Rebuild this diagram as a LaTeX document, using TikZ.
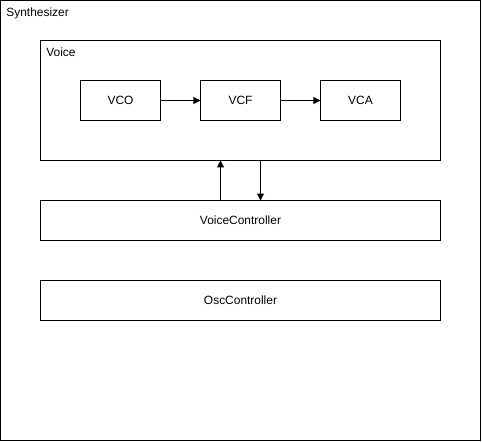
\documentclass[tikz,border=0pt]{standalone}
\usepackage{fontspec}
\setmainfont{Liberation Sans}
\usetikzlibrary{arrows.meta,positioning}
\tikzset{
  block/.style={
    draw=black,
    line width=0.6pt,
    align=center,
    minimum width=1.6cm,
    minimum height=0.8cm,
    inner sep=0pt,
    outer sep=0pt,
    font=\fontsize{6.8}{8}\selectfont
  },
  frame/.style={
    draw=black,
    line width=0.6pt,
    inner sep=0pt,
    outer sep=0pt
  },
  caption/.style={
    anchor=north west,
    inner sep=0pt,
    font=\fontsize{6.8}{8}\selectfont
  },
  line/.style={-{Triangle[length=1.4mm,width=1.4mm]}, line width=0.6pt}
}

\begin{document}
\begin{tikzpicture}[x=0.02cm, y=-0.02cm]
  \useasboundingbox (0,0) rectangle (482,442);
  % outer frame and containers
  \node[frame, minimum width=9.6cm, minimum height=8.8cm] (synth) at (240.5,220.5) {};
  \node[caption] (synthlbl) at (6,7) {Synthesizer};
  \node[frame, minimum width=8cm, minimum height=2.4cm] (voice) at (240.5,100.5) {};
  \node[caption] (voicelbl) at (46,47) {Voice};
  % signal chain
  \node[block] (vco) at (120.5,100.5) {VCO};
  \node[block, right=0.8cm of vco] (vcf) {VCF};
  \node[block, right=0.8cm of vcf] (vca) {VCA};
  \draw[line] (vco) -- (vcf);
  \draw[line] (vcf) -- (vca);
  % controllers
  \node[block, minimum width=8cm] (vctrl) at (240.5,220.5) {VoiceController};
  \node[block, minimum width=8cm] (octrl) at (240.5,300.5) {OscController};
  \draw[line] ([xshift=-0.4cm]vctrl.north) -- ([xshift=-0.4cm]voice.south);
  \draw[line] ([xshift=0.4cm]voice.south) -- ([xshift=0.4cm]vctrl.north);
\end{tikzpicture}
\end{document}
